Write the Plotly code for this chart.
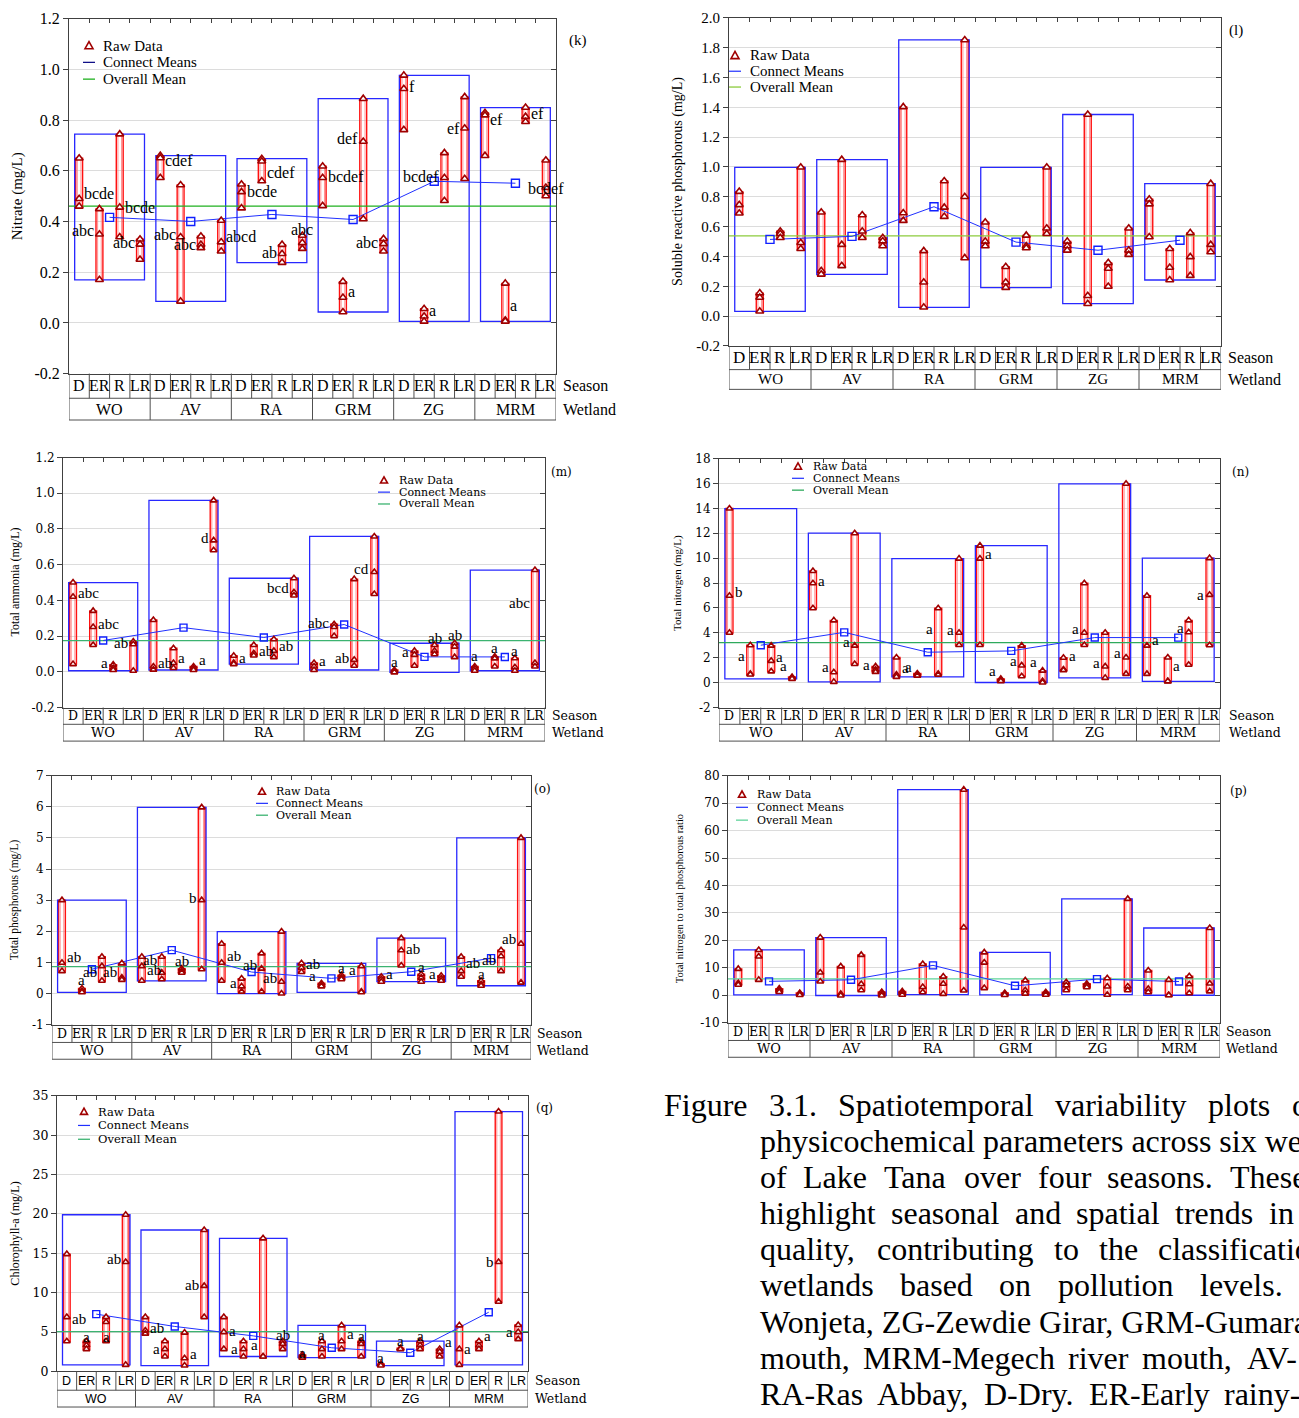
import plotly.graph_objects as go

W, H = 1299, 1418
SERIF = "Liberation Serif"
DSERIF = "DejaVu Serif"
SANS = "Liberation Sans"

wetlands = ["WO", "AV", "RA", "GRM", "ZG", "MRM"]
seasons = ["D", "ER", "R", "LR"]

# ---------------- data (24 groups: wetland-major, season-minor) ----------------
nitrate_raw = [
    [0.65, 0.49, 0.46], [0.45, 0.35, 0.17], [0.745, 0.456, 0.339], [0.33, 0.31, 0.25],
    [0.66, 0.651, 0.573], [0.544, 0.339, 0.085], [0.342, 0.309, 0.296], [0.404, 0.319, 0.283],
    [0.547, 0.517, 0.453], [0.648, 0.638, 0.56], [0.309, 0.273, 0.238], [0.345, 0.316, 0.293],
    [0.618, 0.573, 0.462], [0.163, 0.10, 0.043], [0.885, 0.716, 0.41], [0.332, 0.312, 0.283],
    [0.977, 0.924, 0.762], [0.056, 0.026, 0.006], [0.671, 0.573, 0.482], [0.892, 0.768, 0.569],
    [0.829, 0.82, 0.66], [0.156, 0.01, 0.006], [0.85, 0.814, 0.794], [0.642, 0.534, 0.501],
]
nitrate_letters = ["bcde", "abc", "bcde", "abc", "cdef", "abc", "abc", "abcd",
                   "bcde", "cdef", "ab", "abc", "bcdef", "a", "def", "abc",
                   "f", "a", "bcdef", "ef", "ef", "a", "ef", "bcdef"]
nitrate_side = ["r", "l", "r", "l", "r", "l", "l", "r", "r", "r", "l", "c",
                "r", "r", "l", "l", "r", "r", "l", "l", "r", "r", "r", "c"]
nitrate_letter_y = [0.51, 0.365, 0.456, 0.316, 0.64, 0.35, 0.31, 0.34,
                    0.517, 0.595, 0.277, 0.368, 0.579, 0.125, 0.729, 0.316,
                    0.934, 0.048, 0.579, 0.768, 0.804, 0.07, 0.827, 0.531]

srp_raw = [
    [0.835, 0.746, 0.69], [0.154, 0.125, 0.032], [0.569, 0.552, 0.525], [0.998, 0.492, 0.452],
    [0.696, 0.304, 0.28], [1.049, 0.479, 0.337], [0.678, 0.569, 0.525], [0.525, 0.503, 0.47],
    [1.403, 0.691, 0.64], [0.437, 0.227, 0.059], [0.906, 0.729, 0.667], [1.852, 0.8, 0.39],
    [0.629, 0.501, 0.47], [0.331, 0.227, 0.191], [0.541, 0.47, 0.457], [0.998, 0.589, 0.552],
    [0.501, 0.47, 0.441], [1.352, 0.136, 0.083], [0.357, 0.319, 0.198], [0.589, 0.441, 0.412],
    [0.784, 0.751, 0.53], [0.452, 0.326, 0.242], [0.558, 0.397, 0.271], [0.888, 0.479, 0.43],
]

ammonia_raw = [
    [0.5, 0.42, 0.043], [0.341, 0.251, 0.15], [0.04, 0.021, 0.01], [0.169, 0.154, 0.006],
    [0.29, 0.03, 0.012], [0.132, 0.049, 0.021], [0.03, 0.018, 0.01], [0.96, 0.736, 0.681],
    [0.09, 0.05, 0.043], [0.15, 0.104, 0.091], [0.182, 0.117, 0.082], [0.524, 0.445, 0.427],
    [0.049, 0.03, 0.01], [0.266, 0.251, 0.2], [0.519, 0.067, 0.034], [0.758, 0.559, 0.436],
    [0.01, 0.003, -0.003], [0.117, 0.095, 0.034], [0.15, 0.117, 0.098], [0.16, 0.141, 0.082],
    [0.03, 0.018, 0.006], [0.085, 0.075, 0.03], [0.076, 0.025, 0.006], [0.57, 0.049, 0.03],
]
ammonia_letters = ["abc", "abc", "a", "ab", "ab", "a", "a", "d", "a", "ab", "ab", "bcd",
                   "a", "abc", "ab", "cd", "a", "a", "ab", "ab", "a", "a", "a", "abc"]
ammonia_side = ["r", "r", "l", "l", "r", "r", "r", "l", "r", "r", "r", "l",
                "r", "l", "l", "l", "c", "l", "c", "c", "c", "c", "c", "l"]
ammonia_letter_y = [0.44, 0.27, 0.049, 0.163, 0.052, 0.08, 0.067, 0.749, 0.08, 0.117, 0.146, 0.467,
                    0.058, 0.273, 0.08, 0.578, 0.054, 0.109, 0.19, 0.205, 0.09, 0.135, 0.117, 0.384]

tn_raw = [
    [13.98, 6.98, 4.0], [3.0, 0.7, 0.65], [2.97, 1.75, 0.9], [0.45, 0.38, 0.3],
    [8.96, 7.98, 5.97], [5.0, 0.83, 0.06], [12.0, 2.97, 1.49], [1.3, 1.04, 0.86],
    [2.02, 0.64, 0.46], [0.73, 0.6, 0.56], [5.97, 0.7, 0.64], [9.96, 4.0, 3.02],
    [11.0, 9.96, 3.02], [0.3, 0.2, 0.12], [2.97, 1.38, 0.51], [0.96, 0.12, 0.01],
    [2.0, 1.05, 1.0], [7.98, 4.0, 3.02], [4.0, 1.3, 0.38], [15.97, 2.02, 0.7],
    [6.98, 2.97, 0.7], [2.02, 0.12, 0.1], [5.0, 4.04, 1.43], [10.0, 7.05, 3.0],
]
tn_letters = ["b"] + ["a"] * 23
tn_side = ["r", "l", "r", "l", "r", "l", "l", "l", "r", "l", "l", "l",
           "r", "l", "l", "l", "r", "l", "l", "l", "r", "r", "l", "l"]
tn_letter_y = [7.25, 2.15, 2.05, 1.35, 8.17, 1.25, 3.23, 1.43, 1.17, 1.25, 4.34, 4.26,
               10.3, 0.9, 1.7, 1.65, 2.15, 4.3, 1.57, 2.36, 3.4, 1.35, 4.4, 7.05]

tp_raw = [
    [3.0, 0.99, 0.72], [0.16, 0.08, 0.04], [1.18, 0.88, 0.41], [0.97, 0.51, 0.44],
    [1.18, 0.88, 0.41], [1.18, 0.67, 0.46], [0.8, 0.72, 0.67], [5.98, 3.0, 0.78],
    [1.6, 0.99, 0.41], [0.48, 0.23, 0.06], [1.29, 0.8, 0.06], [1.99, 0.38, 0.0],
    [0.97, 0.83, 0.69], [0.33, 0.27, 0.23], [0.59, 0.51, 0.46], [0.88, 0.06, 0.04],
    [0.54, 0.46, 0.38], [1.78, 1.39, 0.9], [0.62, 0.51, 0.38], [0.57, 0.48, 0.41],
    [1.18, 0.72, 0.54], [0.41, 0.3, 0.25], [1.39, 1.2, 0.72], [5.0, 1.6, 0.35],
]
tp_letters = ["ab", "a", "ab", "ab", "ab", "ab", "ab", "b", "ab", "a", "ab", "ab",
              "ab", "a", "a", "a", "a", "ab", "a", "a", "ab", "a", "ab", "ab"]
tp_side = ["r", "c", "l", "l", "r", "l", "c", "l", "r", "l", "l", "l",
           "r", "l", "c", "l", "r", "r", "c", "l", "r", "c", "l", "l"]
tp_letter_y = [1.18, 0.44, 0.69, 0.69, 0.76, 1.07, 1.06, 3.08, 1.2, 0.33, 0.92, 0.49,
               0.96, 0.57, 0.83, 0.76, 0.62, 1.43, 0.86, 0.62, 0.99, 0.62, 1.07, 1.75]

ratio_raw = [
    [9.6, 4.4, 3.8], [16.5, 14.1, 5.6], [2.4, 1.8, 1.2], [0.8, 0.5, 0.1],
    [21.0, 8.3, 5.0], [10.5, 0.5, -0.1], [14.7, 4.1, 1.8], [1.2, 0.5, -0.1],
    [1.4, 0.8, 0.2], [11.4, 3.0, 1.1], [6.8, 4.2, 0.5], [74.9, 24.7, 1.7],
    [15.6, 11.9, 2.6], [0.8, 0.5, 0.1], [5.4, 1.8, 0.6], [1.1, 0.6, 0.2],
    [4.7, 3.6, 1.8], [4.2, 3.6, 2.9], [6.2, 3.2, 0.2], [35.1, 3.2, 1.8],
    [9.0, 2.3, 1.1], [5.6, 0.1, 0.0], [6.9, 4.0, 0.7], [24.5, 4.3, 1.4],
]

chl_raw = [
    [14.9, 6.9, 3.84], [3.84, 3.34, 2.84], [6.9, 6.27, 3.84], [19.9, 13.9, 0.84],
    [6.9, 5.2, 4.8], [3.84, 2.84, 1.9], [4.93, 1.67, 0.75], [17.96, 10.86, 6.9],
    [6.9, 5.0, 2.84], [3.84, 2.84, 1.9], [16.9, 1.9, 1.9], [3.84, 3.5, 2.84],
    [2.1, 1.9, 1.75], [3.84, 2.84, 1.9], [5.85, 3.84, 2.84], [3.84, 3.5, 1.9],
    [0.95, 0.85, 0.75], [2.95, 2.9, 2.84], [3.84, 3.34, 2.84], [2.84, 2.5, 1.9],
    [5.85, 2.84, 0.84], [3.84, 3.3, 2.84], [33.0, 13.9, 8.86], [5.9, 5.0, 4.1],
]
chl_letters = ["ab", "a", "a", "ab", "ab", "a", "a", "ab", "a", "a", "a", "ab",
               "a", "a", "a", "a", "a", "a", "a", "a", "a", "a", "b", "a"]
chl_side = ["r", "c", "c", "l", "r", "l", "r", "l", "r", "l", "l", "c",
            "c", "c", "r", "c", "c", "c", "c", "r", "r", "r", "l", "l"]
chl_letter_y = [6.7, 4.4, 4.4, 14.3, 5.5, 2.9, 2.17, 11.0, 5.1, 2.84, 3.4, 4.6,
                2.4, 4.6, 4.7, 4.5, 1.67, 3.84, 4.5, 3.7, 2.9, 4.5, 13.9, 5.0]

caption_lines = [
    ["Figure", "3.1.", "Spatiotemporal", "variability", "plots", "of"],
    ["physicochemical parameters across six wetlands"],
    ["of", "Lake", "Tana", "over", "four", "seasons.", "These"],
    ["highlight", "seasonal", "and", "spatial", "trends", "in"],
    ["quality,", "contributing", "to", "the", "classification"],
    ["wetlands", "based", "on", "pollution", "levels."],
    ["Wonjeta, ZG-Zewdie Girar, GRM-Gumara"],
    ["mouth,", "MRM-Megech", "river", "mouth,", "AV-"],
    ["RA-Ras", "Abbay,", "D-Dry.", "ER-Early", "rainy-"],
]
# ---------------- layout / style (pixels) ----------------
caption_word_x = [
    [662, 767, 836, 1053, 1206, 1290],
    [758],
    [758, 801, 882, 962, 1036, 1105, 1228],
    [758, 889, 1013, 1074, 1173, 1267],
    [758, 875, 1052, 1097, 1156],
    [758, 898, 997, 1056, 1198],
    [758],
    [758, 861, 1066, 1140, 1245],
    [758, 875, 982, 1087, 1222],
]
caption_y0, caption_dy, caption_size = 1110, 36.6, 32

base_small = dict(tickfont=(DSERIF, 12), seasonfont=(DSERIF, 12.5), wetfont=(DSERIF, 13),
                  sidefont=(DSERIF, 12.5), legfont=(DSERIF, 11), letterfont=15,
                  tagfont=(DSERIF, 12), legmean="#2030FF", msize=6, sqsize=7)
panels = [
    dict(raw=nitrate_raw, letters=nitrate_letters, side=nitrate_side, ly=nitrate_letter_y,
         rect=(69, 11, 556, 370), rows=(395, 417), yr=(-0.2, 1.2), dt=0.2, fmt=".1f",
         tickfont=(SERIF, 16), seasonfont=(SERIF, 16), wetfont=(SERIF, 16), sidefont=(SERIF, 16),
         legfont=(SERIF, 15), letterfont=16, tagfont=(SERIF, 15), legmean="#000080",
         msize=7, sqsize=8, sidex=561, leg=(89, 38, 17, 101), title="Nitrate (mg/L)",
         titlefont=(SERIF, 15), titlex=17, tag="(k)", tagpos=(578, 33), green="#1FB01F"),
    dict(raw=srp_raw, letters=[], side=[], ly=[],
         rect=(729, 10, 1221, 342), rows=(366, 386), yr=(-0.2, 2.0), dt=0.2, fmt=".1f",
         tickfont=(SERIF, 15), seasonfont=(SERIF, 17), wetfont=(SERIF, 15), sidefont=(SERIF, 16),
         legfont=(SERIF, 15), letterfont=16, tagfont=(SERIF, 15), legmean="#2030FF",
         msize=7, sqsize=8, sidex=1226, leg=(735, 48, 16, 748),
         title="Soluble reactive phosphorous (mg/L)", titlefont=(SERIF, 14), titlex=678,
         tag="(l)", tagpos=(1236, 23), green="#8CCB3C"),
    dict(base_small, raw=ammonia_raw, letters=ammonia_letters, side=ammonia_side, ly=ammonia_letter_y,
         rect=(63, 455, 545, 708), rows=(725, 742), yr=(-0.2, 1.2), dt=0.2, fmt=".1f",
         sidex=550, leg=(384, 478, 12, 397), title="Total ammonia (mg/L)",
         titlefont=(SERIF, 12), titlex=15, tag="(m)", tagpos=(561, 470), green="#3CB371"),
    dict(base_small, raw=tn_raw, letters=tn_letters, side=tn_side, ly=tn_letter_y,
         rect=(719, 456, 1220, 708), rows=(725, 742), yr=(-2, 18), dt=2, fmt=".0f",
         sidex=1227, leg=(798, 464, 12, 811), title="Total nitorgen (mg/L)",
         titlefont=(SERIF, 11), titlex=677, tag="(n)", tagpos=(1240, 470), green="#2EAA5C"),
    dict(base_small, raw=tp_raw, letters=tp_letters, side=tp_side, ly=tp_letter_y,
         rect=(52, 777, 531, 1029), rows=(1047, 1064), yr=(-1, 7), dt=1, fmt=".0f",
         sidex=535, leg=(262, 793, 12, 274), title="Total phosphorous (mg/L)",
         titlefont=(SERIF, 11.5), titlex=14, tag="(o)", tagpos=(542, 790), green="#3CB371"),
    dict(base_small, raw=ratio_raw, letters=[], side=[], ly=[],
         rect=(728, 777, 1220, 1027), rows=(1045, 1062), yr=(-10, 80), dt=10, fmt=".0f",
         sidex=1224, leg=(742, 796, 13, 755), title="Total nitrogen to total phosphorous ratio",
         titlefont=(SERIF, 10.5), titlex=679, tag="(p)", tagpos=(1238, 793), green="#5FD39A"),
    dict(base_small, raw=chl_raw, letters=chl_letters, side=chl_side, ly=chl_letter_y,
         rect=(57, 1101, 528, 1380), rows=(1399, 1416), yr=(0, 35), dt=5, fmt=".0f",
         tickfont=(DSERIF, 12.5), seasonfont=(SANS, 12.5), wetfont=(SANS, 12.5),
         legfont=(DSERIF, 11.5),
         sidex=533, leg=(84, 1117, 14, 96), title="Chlorophyll-a (mg/L)",
         titlefont=(SERIF, 12), titlex=15, tag="(q)", tagpos=(544, 1113), green="#3CB371"),
]

AX = "#404040"
GRID = "#DCDCDC"
TBL = "#505050"


def pxx(x):
    return x / W


def pyy(y):
    return 1 - y / H


def fnt(f, color="black"):
    return dict(family=f[0], size=f[1], color=color)


fig = go.Figure()
shapes, annotations, axes = [], [], {}

for n, P in enumerate(panels, start=1):
    s = "" if n == 1 else str(n)
    xn, yn = "x" + s, "y" + s
    ov = str(n + 7)
    x0p, y0p, x1p, y1p = P["rect"]
    ylo, yhi = P["yr"]
    nst = int(round((yhi - ylo) / P["dt"]))
    tv = [round(ylo + k * P["dt"], 6) for k in range(nst + 1)]
    tt = []
    for v in tv:
        t = format(v + 0.0, P["fmt"])
        if t in ("-0.0", "-0"):
            t = t[1:]
        tt.append(t)
    bounds = [k - 0.5 for k in range(25)]
    axes["xaxis" + s] = dict(domain=[pxx(x0p), pxx(x1p)], range=[-0.5, 23.5], anchor=yn, side="top",
                             showgrid=False, zeroline=False, showticklabels=False, ticks="inside",
                             ticklen=4, tickcolor=AX, tickvals=bounds, showline=True, linecolor=AX,
                             linewidth=1, mirror=True, fixedrange=True)
    axes["yaxis" + s] = dict(domain=[pyy(y1p), pyy(y0p)], range=[ylo, yhi], anchor=xn,
                             tickmode="array", tickvals=tv, ticktext=tt, ticks="outside", ticklen=5,
                             tickcolor=AX, showline=True, linecolor=AX, linewidth=1, mirror=True,
                             showgrid=True, gridcolor=GRID, gridwidth=1, zeroline=False,
                             tickfont=fnt(P["tickfont"]), fixedrange=True)
    axes["yaxis" + ov] = dict(overlaying=yn, side="right", anchor=xn, range=[ylo, yhi],
                              tickmode="array", tickvals=tv, ticks="inside", ticklen=5, tickcolor=AX,
                              showticklabels=False, showgrid=False, zeroline=False, showline=False,
                              fixedrange=True)

    raw = P["raw"]
    rx, ry = [], []
    for i, grp in enumerate(raw):
        for v in grp:
            rx.append(i)
            ry.append(v)
    overall = sum(ry) / len(ry)
    wx, wm, wmin, wmax = [], [], [], []
    for w in range(6):
        vals = [v for g in raw[4 * w:4 * w + 4] for v in g]
        wx.append(4 * w + 1.5)
        wm.append(sum(vals) / len(vals))
        wmin.append(min(vals))
        wmax.append(max(vals))

    fig.add_trace(go.Scatter(x=[-0.5, 23.5], y=[overall, overall], mode="lines",
                             line=dict(color=P["green"], width=1.3), xaxis=xn, yaxis=yn,
                             hoverinfo="skip", showlegend=False))
    fig.add_trace(go.Scatter(x=wx, y=wm, mode="lines+markers",
                             line=dict(color="#2030FF", width=1),
                             marker=dict(symbol="square-open", size=P["sqsize"], color="#1020FF",
                                         line=dict(width=1.4)),
                             xaxis=xn, yaxis=yn, hoverinfo="skip", showlegend=False))
    fig.add_trace(go.Scatter(x=rx, y=ry, mode="markers",
                             marker=dict(symbol="triangle-up", size=P["msize"], color="white",
                                         line=dict(color="#A00000", width=1.6)),
                             xaxis=xn, yaxis=yn, hoverinfo="skip", showlegend=False))
    fig.add_trace(go.Scatter(x=[], y=[], xaxis=xn, yaxis="y" + ov, showlegend=False))

    # red range rectangles per group
    for i, grp in enumerate(raw):
        shapes.append(dict(type="rect", xref=xn, yref=yn, x0=i - 0.17, x1=i + 0.17,
                           y0=min(grp), y1=max(grp), line=dict(color="#FF1010", width=1.4),
                           fillcolor="rgba(255,255,255,0)", layer="between"))
        shapes.append(dict(type="rect", xref=xn, yref=yn, x0=i - 0.09, x1=i + 0.09,
                           y0=min(grp), y1=max(grp), line=dict(color="rgba(255,120,120,0.8)", width=1),
                           fillcolor="rgba(255,255,255,0)", layer="between"))
    # blue wetland boxes
    for w in range(6):
        shapes.append(dict(type="rect", xref=xn, yref=yn, x0=4 * w - 0.22, x1=4 * w + 3.22,
                           y0=wmin[w], y1=wmax[w], line=dict(color="#2828FF", width=1.3),
                           fillcolor="rgba(255,255,255,0)", layer="between"))

    # significance letters
    for i, (txt, sd, yv) in enumerate(zip(P["letters"], P["side"], P["ly"])):
        if sd == "r":
            xv, xa = i + 0.15, "left"
        elif sd == "l":
            xv, xa = i - 0.15, "right"
        else:
            xv, xa = i, "center"
        annotations.append(dict(xref=xn, yref=yn, x=xv, y=yv, text=txt, showarrow=False,
                                xanchor=xa, yanchor="middle", font=fnt((SERIF, P["letterfont"]))))

    # category table
    rb, r1, r2 = y1p, P["rows"][0], P["rows"][1]
    for k in range(25):
        shapes.append(dict(type="line", xref=xn, yref="paper", x0=k - 0.5, x1=k - 0.5,
                           y0=pyy(rb), y1=pyy(r1), line=dict(color=TBL, width=1)))
    for k in range(0, 25, 4):
        shapes.append(dict(type="line", xref=xn, yref="paper", x0=k - 0.5, x1=k - 0.5,
                           y0=pyy(r1), y1=pyy(r2), line=dict(color=TBL, width=1)))
    for yy in (r1, r2):
        shapes.append(dict(type="line", xref=xn, yref="paper", x0=-0.5, x1=23.5,
                           y0=pyy(yy), y1=pyy(yy), line=dict(color=TBL, width=1)))
    ys_c, yw_c = (rb + r1) / 2, (r1 + r2) / 2
    for i in range(24):
        annotations.append(dict(xref=xn, yref="paper", x=i, y=pyy(ys_c), text=seasons[i % 4],
                                showarrow=False, xanchor="center", yanchor="middle",
                                font=fnt(P["seasonfont"])))
    for w in range(6):
        annotations.append(dict(xref=xn, yref="paper", x=4 * w + 1.5, y=pyy(yw_c), text=wetlands[w],
                                showarrow=False, xanchor="center", yanchor="middle",
                                font=fnt(P["wetfont"])))
    for lab, yy in (("Season", ys_c), ("Wetland", yw_c)):
        annotations.append(dict(xref="paper", yref="paper", x=pxx(P["sidex"]), y=pyy(yy), text=lab,
                                showarrow=False, xanchor="left", yanchor="middle",
                                font=fnt(P["sidefont"])))

    # panel tag and y-title
    annotations.append(dict(xref="paper", yref="paper", x=pxx(P["tagpos"][0]), y=pyy(P["tagpos"][1]),
                            text=P["tag"], showarrow=False, xanchor="center", yanchor="middle",
                            font=fnt(P["tagfont"])))
    annotations.append(dict(xref="paper", yref="paper", x=pxx(P["titlex"]), y=pyy((y0p + y1p) / 2),
                            text=P["title"], showarrow=False, textangle=-90, xanchor="center",
                            yanchor="middle", font=fnt(P["titlefont"])))

    # legend (drawn)
    sx, ly0, ldy, tx = P["leg"]
    hs = P["msize"] / 2 + 0.5
    shapes.append(dict(type="path", xref="paper", yref="paper",
                       path=f"M {pxx(sx - hs)},{pyy(ly0 + hs * 0.8)} L {pxx(sx + hs)},{pyy(ly0 + hs * 0.8)} "
                            f"L {pxx(sx)},{pyy(ly0 - hs)} Z",
                       fillcolor="white", line=dict(color="#A00000", width=1.6)))
    shapes.append(dict(type="line", xref="paper", yref="paper", x0=pxx(sx - 6), x1=pxx(sx + 6),
                       y0=pyy(ly0 + ldy), y1=pyy(ly0 + ldy), line=dict(color=P["legmean"], width=1.2)))
    shapes.append(dict(type="line", xref="paper", yref="paper", x0=pxx(sx - 6), x1=pxx(sx + 6),
                       y0=pyy(ly0 + 2 * ldy), y1=pyy(ly0 + 2 * ldy), line=dict(color=P["green"], width=1.3)))
    for j, lab in enumerate(["Raw Data", "Connect Means", "Overall Mean"]):
        annotations.append(dict(xref="paper", yref="paper", x=pxx(tx), y=pyy(ly0 + j * ldy), text=lab,
                                showarrow=False, xanchor="left", yanchor="middle",
                                font=fnt(P["legfont"])))

# caption
for li, (words, xs) in enumerate(zip(caption_lines, caption_word_x)):
    yy = caption_y0 + li * caption_dy
    for wtxt, xw in zip(words, xs):
        annotations.append(dict(xref="paper", yref="paper", x=pxx(xw), y=pyy(yy), text=wtxt,
                                showarrow=False, xanchor="left", yanchor="middle",
                                font=dict(family=SERIF, size=caption_size, color="black")))

fig.update_layout(width=W, height=H, margin=dict(l=0, r=0, t=0, b=0), paper_bgcolor="white",
                  plot_bgcolor="white", showlegend=False, hovermode=False,
                  shapes=shapes, annotations=annotations, **axes)
fig.write_html("out.html",
               post_script="document.body.style.margin='0';document.body.style.overflow='hidden';")
